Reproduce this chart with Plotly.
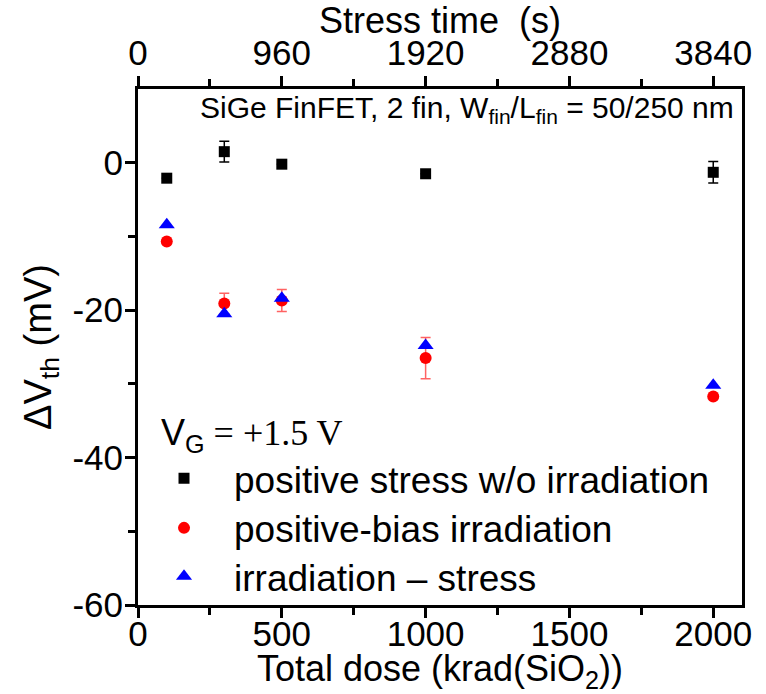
import plotly.graph_objects as go

dose = [100, 300, 500, 1000, 2000]
stress_only = [-2.1, 1.5, -0.2, -1.5, -1.3]
stress_only_err = [0.0, 1.4, 0.0, 0.0, 1.45]
bias_irr = [-10.7, -19.1, -18.7, -26.5, -31.7]
bias_irr_err = [0.0, 1.4, 1.5, 2.8, 0.0]
irr_minus_stress = [-8.4, -20.5, -18.4, -24.8, -30.2]

x_range = [0, 2100]
y_range = [-60, 10]
time_per_dose = 1.92
bottom_ticks = [0, 500, 1000, 1500, 2000]
top_ticks = [0, 960, 1920, 2880, 3840]
y_ticks = [0, -20, -40, -60]
y_ticktext = ["0", "-20", "-40", "-60"]

FN = "Liberation Sans, Arial, sans-serif"
FS = "Liberation Serif, Times New Roman, serif"

fig = go.Figure()
fig.add_trace(go.Scatter(
    x=dose, y=stress_only, mode="markers", name="positive stress w/o irradiation",
    marker=dict(symbol="square", size=11, color="black"), legend="legend",
    error_y=dict(type="data", array=stress_only_err, color="black", thickness=1.5, width=5)))
fig.add_trace(go.Scatter(
    x=dose, y=bias_irr, mode="markers", name="positive-bias irradiation",
    marker=dict(symbol="circle", size=12, color="red"), legend="legend2",
    error_y=dict(type="data", array=bias_irr_err, color="rgba(255,70,70,0.85)", thickness=1.5, width=5)))
fig.add_trace(go.Scatter(
    x=dose, y=irr_minus_stress, mode="markers", name="irradiation \u2013 stress",
    marker=dict(symbol="triangle-up", size=14, color="blue"), legend="legend3"))
# top axis carrier
fig.add_trace(go.Scatter(x=top_ticks, y=[None]*len(top_ticks), xaxis="x2",
                         mode="markers", showlegend=False, hoverinfo="skip"))

tick_common = dict(showline=True, linecolor="black", linewidth=3, automargin=False,
                   ticks="outside", ticklen=10, tickwidth=3, tickcolor="black",
                   showgrid=False, zeroline=False,
                   tickfont=dict(family=FN, size=35, color="black"))
minor_common = dict(ticklen=7, tickwidth=3, tickcolor="black", ticks="outside")

L = -0.0066
leg_common = dict(x=L, xanchor="left", yanchor="middle", itemwidth=90,
                  font=dict(family=FN, size=37, color="black"),
                  bgcolor="rgba(0,0,0,0)", borderwidth=0)

fig.update_layout(
    width=766, height=694,
    margin=dict(l=138, r=24, t=89, b=89, autoexpand=False),
    plot_bgcolor="white", paper_bgcolor="white",
    showlegend=True,
    legend=dict(y=0.2448, **leg_common),
    legend2=dict(y=0.1486, **leg_common),
    legend3=dict(y=0.0548, **leg_common),
    xaxis=dict(range=x_range, tickvals=bottom_ticks, mirror=False, ticklabelstandoff=-14,
               minor=dict(tickvals=[250, 750, 1250, 1750], **minor_common),
               title=dict(text="Total dose (krad(SiO<sub>2</sub>))", font=dict(family=FN, size=36, color="black"), standoff=18),
               **tick_common),
    xaxis2=dict(overlaying="x", side="top", range=[x_range[0]*time_per_dose, x_range[1]*time_per_dose],
                tickvals=top_ticks, ticklabelstandoff=-3,
                minor=dict(tickvals=[480, 1440, 2400, 3360], **minor_common),
                title=dict(text="Stress time  (s)", font=dict(family=FN, size=36, color="black"), standoff=0),
                **tick_common),
    yaxis=dict(range=y_range, tickvals=y_ticks, ticktext=y_ticktext, mirror=True, ticklabelstandoff=-5,
               minor=dict(tickvals=[-10, -30, -50], **minor_common),
               title=dict(text="\u0394V<sub>th</sub> (mV)", font=dict(family=FN, size=38, color="black"), standoff=10),
               **tick_common),
)

fig.add_annotation(xref="paper", yref="paper", x=0.99, y=1.0, xanchor="right", yanchor="top", yshift=0,
                   text="SiGe FinFET, 2 fin, W<sub>fin</sub>/L<sub>fin</sub> = 50/250 nm",
                   showarrow=False, font=dict(family=FN, size=30, color="black"))
fig.add_annotation(xref="paper", yref="paper", x=0.035, y=0.377, xanchor="left", yanchor="top",
                   text="V<sub>G</sub><span style=\"font-family:Liberation Serif\"> = +1.5 V</span>",
                   showarrow=False, font=dict(family=FN, size=36, color="black"))

fig.write_html("out.html")
